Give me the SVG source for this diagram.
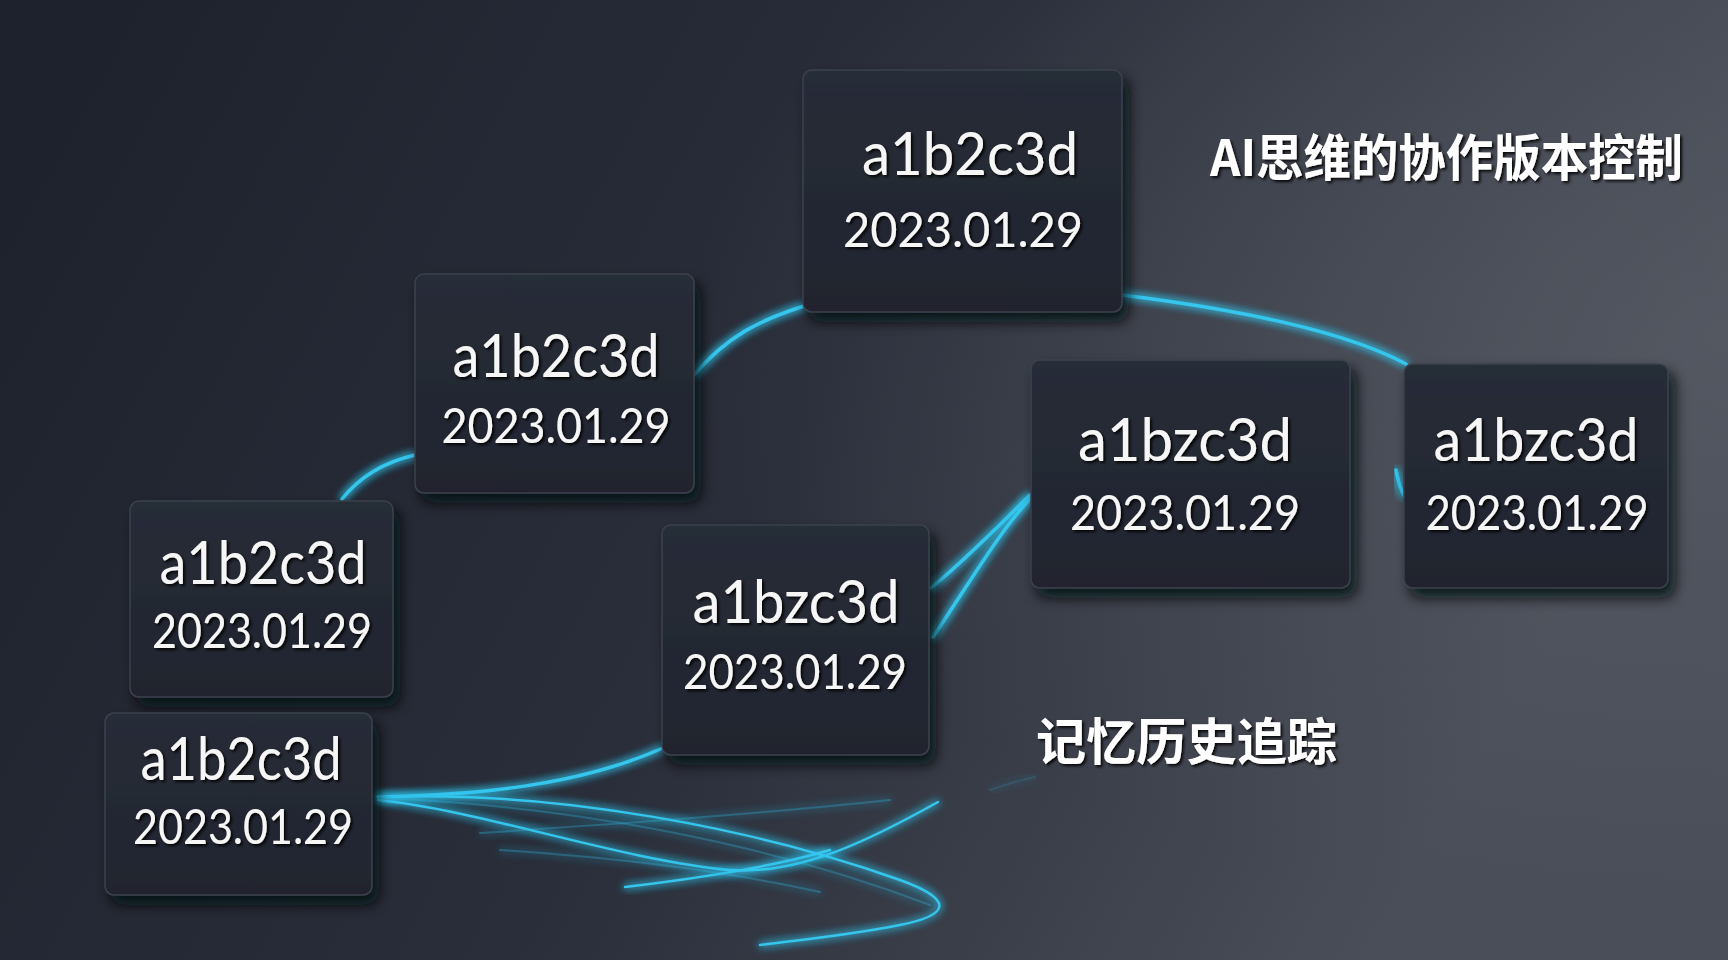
<svg xmlns="http://www.w3.org/2000/svg" width="1728" height="960" viewBox="0 0 1728 960">
<defs>
<linearGradient id="bg" x1="0" y1="0" x2="1" y2="0.3">
<stop offset="0" stop-color="#1d212c"/>
<stop offset="0.55" stop-color="#2a2e3a"/>
<stop offset="1" stop-color="#4a4e58"/>
</linearGradient>
<radialGradient id="hl" cx="1" cy="0.35" r="0.6">
<stop offset="0" stop-color="#5a5e67" stop-opacity="0.6"/>
<stop offset="1" stop-color="#5a5e67" stop-opacity="0"/>
</radialGradient>
<linearGradient id="boxg" x1="0" y1="0" x2="0" y2="1">
<stop offset="0" stop-color="#282d38"/>
<stop offset="1" stop-color="#20242e"/>
</linearGradient>
<filter id="sh" x="-20%" y="-20%" width="150%" height="150%">
<feDropShadow dx="6" dy="9" stdDeviation="7" flood-color="#05070b" flood-opacity="0.85"/>
</filter>
<filter id="tsh" x="-10%" y="-30%" width="120%" height="160%">
<feDropShadow dx="2" dy="2" stdDeviation="1.5" flood-color="#000" flood-opacity="0.9"/>
</filter>
<filter id="glow" x="-20%" y="-20%" width="140%" height="140%">
<feGaussianBlur in="SourceGraphic" stdDeviation="4" result="b"/>
<feMerge><feMergeNode in="b"/><feMergeNode in="b"/><feMergeNode in="SourceGraphic"/></feMerge>
</filter>
</defs>
<style>
.box{fill:url(#boxg);stroke:#3b404c;stroke-width:1.5;filter:url(#sh)}
.id{font-family:Lato,"Liberation Sans",sans-serif;font-size:60px;fill:#f6f6f6;text-anchor:middle;filter:url(#tsh)}
.dt{font-family:Lato,"Liberation Sans",sans-serif;font-size:48px;fill:#f6f6f6;text-anchor:middle;filter:url(#tsh)}
.cap{font-family:"Noto Sans CJK SC","Liberation Sans",sans-serif;font-size:50px;font-weight:bold;fill:#ffffff;filter:url(#tsh)}
.ln{fill:none;stroke:#34c6ee;stroke-width:3.5;stroke-linecap:round;filter:url(#glow)}
.fl{fill:none;stroke:#2fb4dc;stroke-width:2;stroke-linecap:round;opacity:0.4;filter:url(#glow)}
</style>
<rect width="1728" height="960" fill="url(#bg)"/>
<rect width="1728" height="960" fill="url(#hl)"/>

<g id="connectors">
<path class="ln" d="M694,375 C727,336 760,320 804,306"/>
<path class="ln" d="M1122,295 C1234,309 1345,331 1406,364"/>
<path class="ln" d="M342,499 C358,479 380,463 415,455"/>
<path class="ln" d="M393,605 L662,605"/>
<path class="ln" d="M931,588 C965,560 1000,525 1030,495"/>
<path class="ln" d="M933,637 C965,590 1000,530 1030,499"/>
<path class="ln" d="M1396,470 C1398,480 1400,490 1405,497"/>
<path class="ln" d="M378,797 C480,795 580,785 663,748"/>
<path class="ln" d="M378,797 C560,790 760,830 900,880 C955,900 950,915 900,925 C850,935 800,940 760,945" style="stroke-width:2.5"/>
<path class="ln" d="M378,800 C480,810 620,860 730,870 C800,875 870,840 938,802" style="stroke-width:2.5"/>
<path class="ln" d="M625,887 C700,878 780,865 830,850" style="stroke-width:2.5"/>
<path class="fl" d="M480,833 C600,825 750,815 890,800"/>
<path class="fl" d="M500,850 C620,858 720,870 820,892"/>
<path class="fl" d="M378,798 C560,805 760,840 930,905"/>
<path class="fl" d="M990,790 C1005,785 1020,780 1035,777" style="opacity:0.2"/>
</g>

<g id="node-top">
<rect class="box" x="803" y="70" width="319" height="242" rx="9"/>
<text class="id" x="970" y="175" textLength="216" lengthAdjust="spacingAndGlyphs">a1b2c3d</text>
<text class="dt" x="963" y="247" textLength="240" lengthAdjust="spacingAndGlyphs">2023.01.29</text>
</g>
<g id="node-b">
<rect class="box" x="415" y="274" width="279" height="219" rx="9"/>
<text class="id" x="556" y="377" textLength="207" lengthAdjust="spacingAndGlyphs">a1b2c3d</text>
<text class="dt" x="556" y="443" textLength="229" lengthAdjust="spacingAndGlyphs">2023.01.29</text>
</g>
<g id="node-c">
<rect class="box" x="130" y="501" width="263" height="196" rx="9"/>
<text class="id" x="263" y="584" textLength="207" lengthAdjust="spacingAndGlyphs">a1b2c3d</text>
<text class="dt" x="262" y="648" textLength="220" lengthAdjust="spacingAndGlyphs">2023.01.29</text>
</g>
<g id="node-d">
<rect class="box" x="105" y="713" width="267" height="182" rx="9"/>
<text class="id" x="241" y="780" textLength="201" lengthAdjust="spacingAndGlyphs">a1b2c3d</text>
<text class="dt" x="243" y="844" textLength="220" lengthAdjust="spacingAndGlyphs">2023.01.29</text>
</g>
<g id="node-e">
<rect class="box" x="662" y="525" width="267" height="230" rx="9"/>
<text class="id" x="796" y="623" textLength="207" lengthAdjust="spacingAndGlyphs">a1bzc3d</text>
<text class="dt" x="795" y="689" textLength="224" lengthAdjust="spacingAndGlyphs">2023.01.29</text>
</g>
<g id="node-f">
<rect class="box" x="1031" y="360" width="319" height="228" rx="9"/>
<text class="id" x="1185" y="461" textLength="214" lengthAdjust="spacingAndGlyphs">a1bzc3d</text>
<text class="dt" x="1185" y="530" textLength="230" lengthAdjust="spacingAndGlyphs">2023.01.29</text>
</g>
<g id="node-g">
<rect class="box" x="1404" y="364" width="264" height="224" rx="9"/>
<text class="id" x="1536" y="461" textLength="205" lengthAdjust="spacingAndGlyphs">a1bzc3d</text>
<text class="dt" x="1537" y="530" textLength="223" lengthAdjust="spacingAndGlyphs">2023.01.29</text>
</g>

<text class="cap" x="1210" y="176" textLength="473" lengthAdjust="spacingAndGlyphs">AI思维的协作版本控制</text>
<text class="cap" x="1036" y="760" textLength="301" lengthAdjust="spacingAndGlyphs">记忆历史追踪</text>
</svg>
